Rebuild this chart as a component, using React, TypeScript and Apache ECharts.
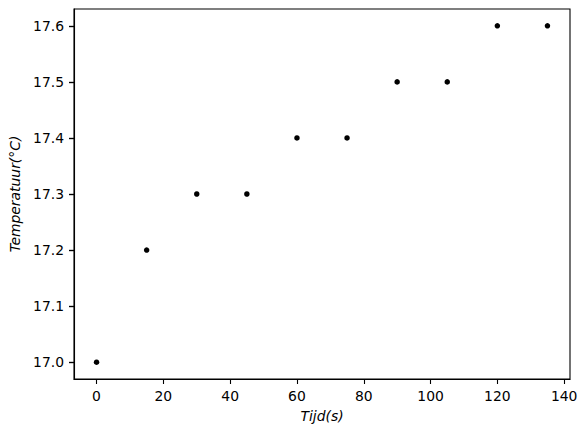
import React, { useEffect, useRef } from "react";
import * as echarts from "echarts";

const tijd = [0, 15, 30, 45, 60, 75, 90, 105, 120, 135];
const temperatuur = [17.0, 17.2, 17.3, 17.3, 17.4, 17.4, 17.5, 17.5, 17.6, 17.6];
const xTicks = [0, 20, 40, 60, 80, 100, 120, 140];
const yTicks = [17.0, 17.1, 17.2, 17.3, 17.4, 17.5, 17.6];

export default function App() {
  const ref = useRef<HTMLDivElement>(null);
  useEffect(() => {
    if (!ref.current) return;
    const chart = echarts.init(ref.current, null, { renderer: "svg" });
    const font = "DejaVu Sans";
    const fs = 13.9;
    const yMin = 16.97;
    const yMax = 17.63;
    chart.setOption({
      animation: false,
      backgroundColor: "#fff",
      grid: {
        left: 74,
        top: 9,
        width: 496,
        height: 370,
        show: true,
        borderColor: "#000",
        borderWidth: 1.1,
        backgroundColor: "transparent",
        containLabel: false,
        outerBoundsMode: "none",
      },
      xAxis: {
        type: "value",
        min: -6.75,
        max: 141.75,
        name: "Tijd(s)",
        nameLocation: "middle",
        nameGap: 30,
        nameTextStyle: { fontFamily: font, fontSize: fs, fontStyle: "italic", color: "#000", verticalAlign: "top" },
        axisLine: { show: true, onZero: false, lineStyle: { color: "#000", width: 1.1 } },
        splitLine: { show: false },
        axisTick: { show: true, inside: false, length: 5, lineStyle: { color: "#000", width: 1.1 }, customValues: xTicks },
        axisLabel: {
          customValues: xTicks,
          margin: 10,
          fontFamily: font,
          fontSize: fs,
          color: "#000",
          formatter: (v: number) => String(v),
        },
      },
      yAxis: [
        {
          type: "value",
          min: yMin,
          max: yMax,
          position: "left",
          name: "Temperatuur(°C)",
          nameLocation: "middle",
          nameGap: 50,
          nameRotate: 90,
          nameTextStyle: { fontFamily: font, fontSize: fs, fontStyle: "italic", color: "#000" },
          axisLine: { show: true, onZero: false, lineStyle: { color: "#000", width: 1.1 } },
          splitLine: { show: false },
          axisTick: { show: true, inside: false, length: 5, lineStyle: { color: "#000", width: 1.2 }, customValues: yTicks },
          axisLabel: {
            customValues: yTicks,
            margin: 10,
            fontFamily: font,
            fontSize: fs,
            color: "#000",
            formatter: (v: number) => v.toFixed(1),
          },
        },
        {
          type: "value",
          min: yMin,
          max: yMax,
          position: "left",
          offset: 0,
          axisLine: { show: false, onZero: false },
          splitLine: { show: false },
          axisLabel: { show: false },
          axisTick: { show: true, inside: false, length: 5, lineStyle: { color: "#000", width: 1.2 }, customValues: yTicks },
        },
      ],
      series: [
        {
          type: "scatter",
          yAxisIndex: 0,
          data: tijd.map((t, i) => [t, temperatuur[i]]),
          symbol: "circle",
          symbolSize: 5.5,
          itemStyle: { color: "#000", opacity: 1 },
        },
      ],
    });
    return () => chart.dispose();
  }, []);
  return (
    <div
      ref={ref}
      style={{ position: "absolute", left: 0, top: 0, width: 587, height: 436 }}
    />
  );
}
